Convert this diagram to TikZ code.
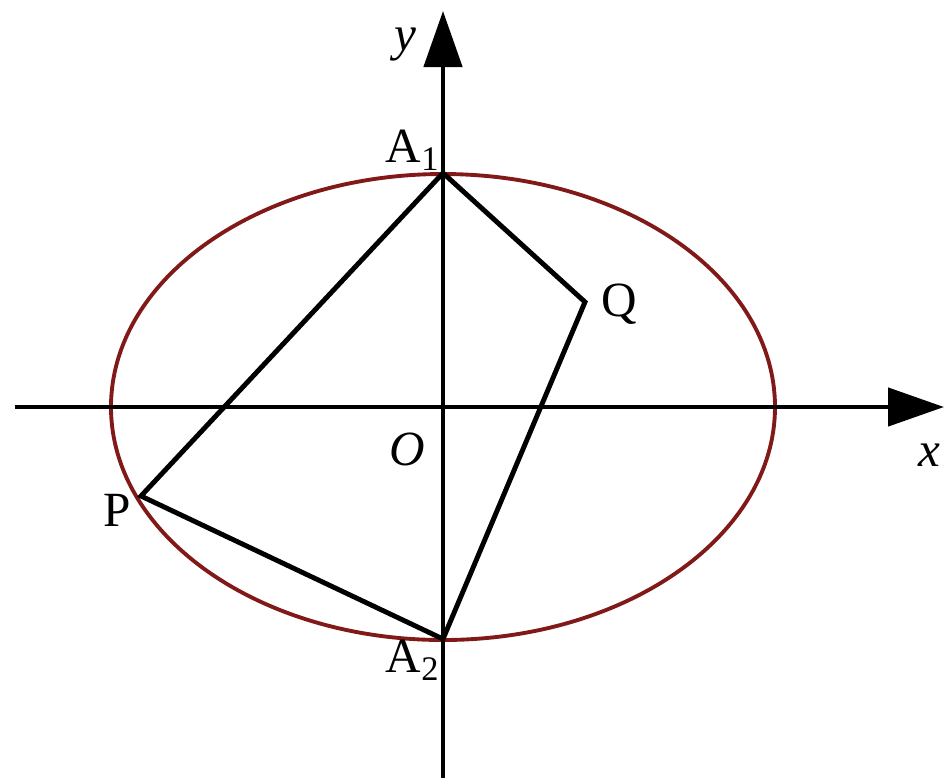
\documentclass[tikz,border=0pt]{standalone}
\usepackage{fontspec}
\setmainfont{Liberation Serif}
\usetikzlibrary{arrows.meta}

\begin{document}
\begin{tikzpicture}[
    axis/.style={line width=1.3pt, -{Triangle[length=0.56cm, width=0.38cm]}},
    seg/.style={line width=1.4pt, line join=miter},
    curve/.style={line width=1.1pt, draw={rgb,255:red,130;green,25;blue,25}},
    lbl/.style={font=\fontsize{14}{16}\selectfont, inner sep=1pt}
]
\useasboundingbox (-4.43,-3.71) rectangle (5.01,4.07);
% ellipse and axes
\draw[curve] (0,0) ellipse [x radius=3.32, y radius=2.33];
\draw[axis] (-4.28,0) -- (5.01,0);
\draw[axis] (0,-3.71) -- (0,3.96);
% points
\coordinate (O) at (0,0);
\coordinate (A1) at (0,2.34);
\coordinate (A2) at (0,-2.32);
\coordinate (P) at (-3.02,-0.89);
\coordinate (Q) at (1.42,1.05);
\draw[seg] (A1) -- (P) -- (A2) -- (Q) -- cycle;
% labels
\node[lbl] (ly) at (-0.38,3.62) {\textit{y}};
\node[lbl] (lx) at (4.86,-0.48) {\textit{x}};
\node[lbl] (lo) at (-0.36,-0.42) {\textit{O}};
\node[lbl] (la1) at (-0.30,2.57) {A\textsubscript{1}};
\node[lbl] (la2) at (-0.30,-2.53) {A\textsubscript{2}};
\node[lbl] (lp) at (-3.26,-1.03) {P};
\node[lbl] (lq) at (1.76,1.03) {Q};
\end{tikzpicture}
\end{document}
